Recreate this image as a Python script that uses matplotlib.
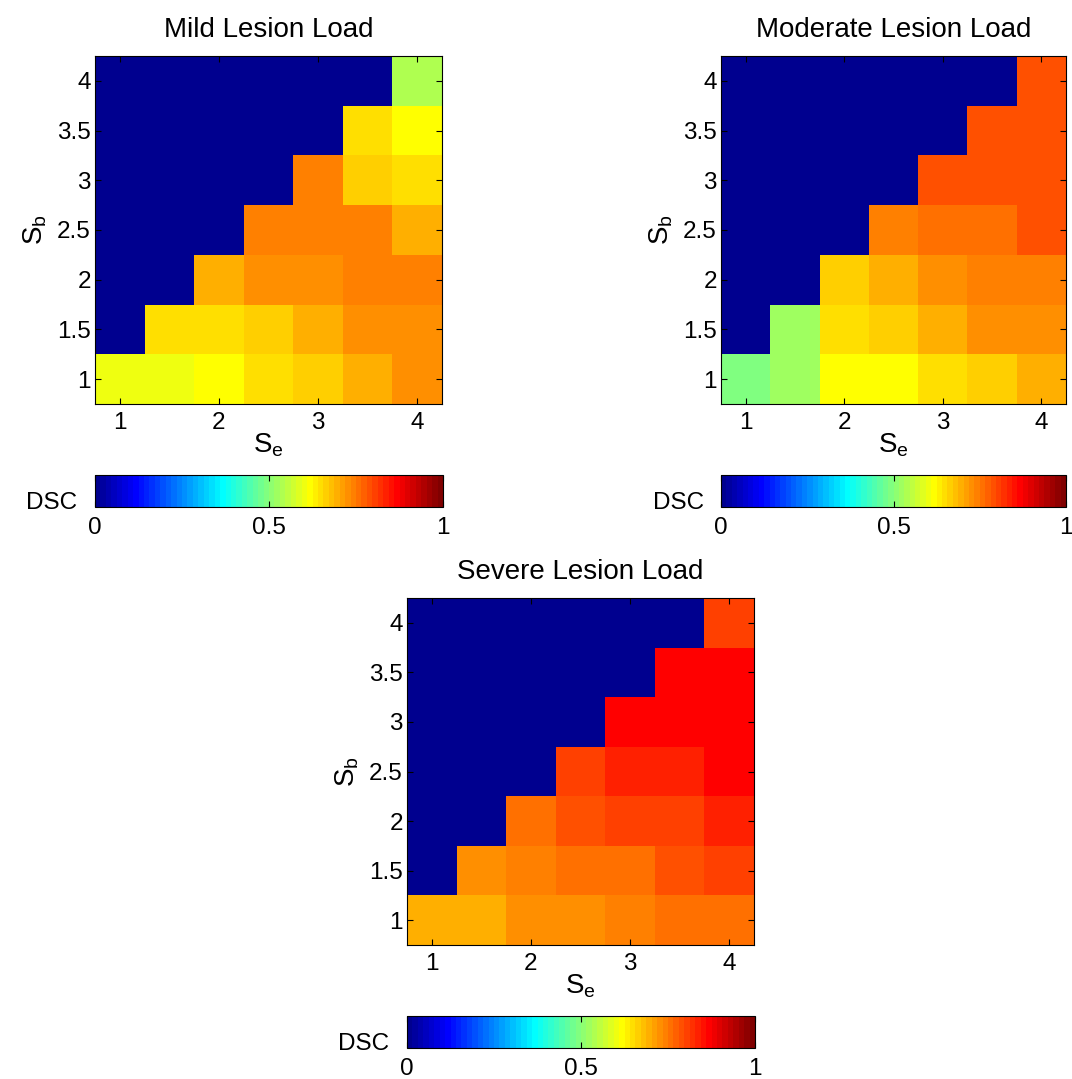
import matplotlib
matplotlib.use("Agg")
import matplotlib.pyplot as plt
import numpy as np
from matplotlib.colors import ListedColormap

plt.rcParams['font.family'] = ['Liberation Sans', 'DejaVu Sans']
plt.rcParams['mathtext.default'] = 'regular'

# scale values for both axes
s_e = [1, 1.5, 2, 2.5, 3, 3.5, 4]
s_b = [1, 1.5, 2, 2.5, 3, 3.5, 4]

# DSC, rows from S_b = 1 (bottom) up to S_b = 4 (top); columns S_e = 1..4
dsc_mild = [
    [0.60, 0.60, 0.62, 0.65, 0.67, 0.695, 0.72],
    [0.00, 0.65, 0.65, 0.67, 0.695, 0.72, 0.72],
    [0.00, 0.00, 0.695, 0.72, 0.72, 0.74, 0.74],
    [0.00, 0.00, 0.00, 0.74, 0.74, 0.74, 0.695],
    [0.00, 0.00, 0.00, 0.00, 0.74, 0.67, 0.65],
    [0.00, 0.00, 0.00, 0.00, 0.00, 0.65, 0.62],
    [0.00, 0.00, 0.00, 0.00, 0.00, 0.00, 0.54],
]
dsc_moderate = [
    [0.49, 0.52, 0.62, 0.62, 0.65, 0.67, 0.695],
    [0.00, 0.52, 0.65, 0.67, 0.695, 0.72, 0.72],
    [0.00, 0.00, 0.67, 0.695, 0.72, 0.74, 0.74],
    [0.00, 0.00, 0.00, 0.74, 0.765, 0.765, 0.79],
    [0.00, 0.00, 0.00, 0.00, 0.79, 0.79, 0.79],
    [0.00, 0.00, 0.00, 0.00, 0.00, 0.79, 0.79],
    [0.00, 0.00, 0.00, 0.00, 0.00, 0.00, 0.79],
]
dsc_severe = [
    [0.695, 0.695, 0.72, 0.72, 0.74, 0.765, 0.765],
    [0.00, 0.72, 0.74, 0.765, 0.765, 0.79, 0.81],
    [0.00, 0.00, 0.765, 0.79, 0.81, 0.81, 0.84],
    [0.00, 0.00, 0.00, 0.81, 0.84, 0.84, 0.87],
    [0.00, 0.00, 0.00, 0.00, 0.87, 0.87, 0.87],
    [0.00, 0.00, 0.00, 0.00, 0.00, 0.87, 0.87],
    [0.00, 0.00, 0.00, 0.00, 0.00, 0.00, 0.81],
]
titles = ['Mild Lesion Load', 'Moderate Lesion Load', 'Severe Lesion Load']


def matlab_jet(m=64):
    # same construction as MATLAB's jet(m)
    n = int(np.ceil(m / 4))
    u = np.concatenate([np.arange(1, n + 1) / n, np.ones(n - 1), np.arange(n, 0, -1) / n])
    g = int(np.ceil(n / 2)) - (1 if m % 4 == 1 else 0) + np.arange(1, len(u) + 1)
    r = g + n
    b = g - n
    J = np.zeros((m, 3))
    J[r[r <= m] - 1, 0] = u[r <= m]
    J[g[g <= m] - 1, 1] = u[g <= m]
    J[b[b > 0] - 1, 2] = u[b > 0]
    return ListedColormap(J)


cmap = matlab_jet(64)

W, H = 1072, 1079
fig = plt.figure(figsize=(W / 100, H / 100), dpi=100)


def px(x0, y0, x1, y1):
    return [x0 / W, 1 - y1 / H, (x1 - x0) / W, (y1 - y0) / H]


panels = [
    (dsc_mild, px(95, 56, 442, 404), px(95, 475, 443, 507)),
    (dsc_moderate, px(721, 56, 1066, 404), px(721, 475, 1066, 507)),
    (dsc_severe, px(407, 598, 754, 945), px(407, 1016, 755, 1048)),
]

xe = np.append(np.array(s_e) - 0.25, s_e[-1] + 0.25)
ye = np.append(np.array(s_b) - 0.25, s_b[-1] + 0.25)

for (data, ax_pos, cb_pos), title in zip(panels, titles):
    ax = fig.add_axes(ax_pos)
    mesh = ax.pcolormesh(xe, ye, np.array(data), cmap=cmap, vmin=0, vmax=1)
    ax.set_xlim(xe[0], xe[-1])
    ax.set_ylim(ye[0], ye[-1])
    ax.set_xticks([1, 2, 3, 4])
    ax.set_xticklabels(['1', '2', '3', '4'])
    ax.set_yticks(s_b)
    ax.set_yticklabels(['1', '1.5', '2', '2.5', '3', '3.5', '4'])
    ax.tick_params(direction='in', top=True, right=True, labelsize=17.5, length=4, width=0.8)
    ax.tick_params(axis='x', pad=6)
    ax.tick_params(axis='y', pad=3)
    ax.set_title(title, fontsize=20, pad=14)
    ax.set_xlabel('S$_e$', fontsize=20, labelpad=-2)
    ax.set_ylabel('S$_b$', fontsize=20, labelpad=6)
    for sp in ax.spines.values():
        sp.set_linewidth(0.8)

    cax = fig.add_axes(cb_pos)
    cb = fig.colorbar(mesh, cax=cax, orientation='horizontal', ticks=[0, 0.5, 1])
    cb.ax.set_xticklabels(['0', '0.5', '1'])
    cb.ax.tick_params(direction='in', top=True, bottom=True, labelsize=17.5, length=4, width=0.8, pad=7)
    cb.outline.set_linewidth(0.8)
    cax.text(-0.05, -0.06, 'DSC', transform=cax.transAxes, ha='right', va='baseline', fontsize=17.5)

fig.savefig('out.png', dpi=100)
